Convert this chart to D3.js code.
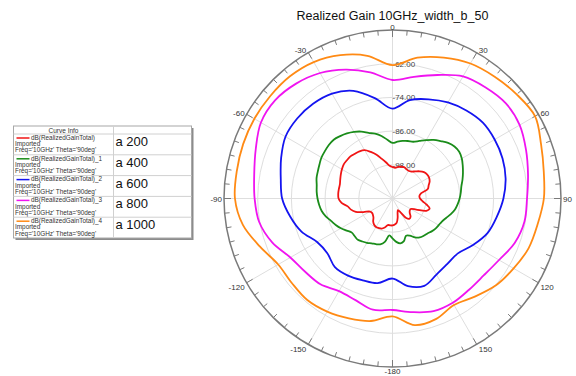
<!DOCTYPE html>
<html><head><meta charset="utf-8">
<script src="https://cdn.jsdelivr.net/npm/d3@7"></script>
<style>body{margin:0;background:#fff}svg{display:block;font-family:Arial,"Liberation Sans",sans-serif}</style>
</head><body><svg id="c" width="576" height="376"></svg>
<script>
// ---- data ----
const angles10 = [-180,-170,-160,-150,-140,-130,-120,-110,-100,-90,-80,-70,-60,-50,-40,-30,-20,-10,
  0,10,20,30,40,50,60,70,80,90,100,110,120,130,140,150,160,170];
const angles5 = [-180,-175,-170,-165,-160,-155,-150,-145,-140,-135,-130,-125,-120,-115,-110,-105,-100,-95,
  -90,-85,-80,-75,-70,-65,-60,-55,-50,-45,-40,-35,-30,-25,-20,-15,-10,-5,
  0,5,10,15,20,25,30,35,40,45,50,55,60,65,70,75,80,85,
  90,95,100,105,110,115,120,125,130,135,140,145,150,155,160,165,170,175];
const gainA200 = [-100.4,-100.4,-100.4,-99.3,-98.6,-98.4,-98.3,-98.6,-99.3,-100.4,-100.9,-101.1,-100.7,-98.6,-96.1,-94.7,-93.8,-91.8,
  -90.8,-90.6,-90.6,-90.6,-90.2,-89.7,-89.2,-88.8,-88.8,-88.8,-89.2,-89.5,-90.1,-91.7,-93.4,-95.4,-97.0,-98.3,
  -98.8,-99.0,-98.6,-98.3,-98.1,-98.4,-98.6,-98.3,-97.4,-96.3,-95.4,-95.0,-95.0,-95.4,-96.3,-97.0,-99.7,-100.4,
  -100.2,-99.3,-97.7,-96.3,-97.2,-100.7,-102.5,-102.5,-102.0,-100.9,-100.6,-101.5,-104.3,-105.4,-104.7,-102.9,-101.3,-100.7];
const gainA400 = [-95.8,-96.8,-94.3,-93.1,-92.7,-92.4,-91.8,-91.3,-90.8,-91.0,-91.1,-90.1,-88.8,-87.7,-86.7,-85.4,-84.4,-83.8,
  -83.3,-82.9,-82.6,-82.0,-81.7,-81.3,-80.8,-80.6,-80.4,-80.4,-81.0,-81.7,-82.6,-83.7,-85.1,-86.1,-87.4,-89.0,
  -90.2,-89.7,-89.2,-88.8,-88.5,-87.4,-86.0,-84.5,-83.3,-82.0,-81.2,-81.0,-81.5,-82.4,-83.3,-84.2,-85.1,-85.6,
  -86.1,-86.7,-87.4,-88.5,-89.7,-90.6,-91.0,-91.3,-91.8,-92.4,-92.7,-93.1,-94.0,-95.4,-95.9,-94.3,-93.8,-94.5];
const gainA600 = [-81.5,-79.4,-79.0,-78.3,-78.1,-79.7,-79.0,-75.5,-73.0,-70.7,-69.6,-67.8,-66.0,-65.7,-66.0,-66.9,-69.2,-73.7,
  -78.0,-74.4,-72.4,-70.5,-69.1,-68.0,-68.0,-68.3,-69.1,-70.5,-72.3,-74.0,-76.9,-79.6,-79.6,-78.7,-76.9,-78.3];
const gainA800 = [-70.3,-69.8,-71.5,-71.9,-70.1,-69.4,-68.0,-64.4,-61.8,-60.9,-60.0,-58.2,-55.9,-55.5,-56.6,-58.4,-61.2,-64.4,
  -67.8,-66.0,-63.2,-59.8,-58.4,-57.3,-57.7,-59.4,-61.0,-62.1,-62.3,-63.7,-66.2,-67.5,-67.6,-67.1,-67.3,-68.9];
const gainA1000 = [-68.0,-65.7,-64.6,-63.5,-62.8,-63.2,-63.0,-59.8,-55.9,-53.9,-53.7,-53.4,-53.2,-53.2,-53.2,-53.9,-55.7,-58.4,
  -62.5,-59.1,-56.6,-54.5,-53.4,-52.3,-51.4,-53.7,-55.3,-56.1,-57.5,-58.4,-60.2,-61.9,-64.4,-66.2,-64.4,-64.2];
const curveNames = ["dB(RealizedGainTotal)","dB(RealizedGainTotal)_1","dB(RealizedGainTotal)_2","dB(RealizedGainTotal)_3","dB(RealizedGainTotal)_4"];
const curveLabels = ["a 200","a 400","a 600","a 800","a 1000"];
const ringTicks = [-98,-86,-74,-62];
const angleTicks = [-180,-150,-120,-90,-60,-30,0,30,60,90,120,150];
const titleText = "Realized Gain 10GHz_width_b_50";

// ---- setup ----
const colors = ["#f01414","#1a8c1a","#1414f0","#f014f0","#ff8a14"];
const series = [
  {angles: angles5, values: gainA200},
  {angles: angles5, values: gainA400},
  {angles: angles10, values: gainA600},
  {angles: angles10, values: gainA800},
  {angles: angles10, values: gainA1000}
];
const svg = d3.select("#c");
svg.append("rect").attr("width",576).attr("height",376).attr("fill","#fff");
const cx = 392.5, cy = 198.5, R = 168.5;
const r = d3.scaleLinear().domain([-110,-50]).range([0,R]);
const rad = a => a*Math.PI/180;
const g = svg.append("g").attr("transform",`translate(${cx},${cy})`);

// grid rings
g.selectAll("circle.ring").data(ringTicks).join("circle")
  .attr("r",d=>r(d)).attr("fill","none").attr("stroke","#dedede").attr("stroke-width",1);
// spokes
g.selectAll("line.spoke").data(angleTicks).join("line")
  .attr("x1",0).attr("y1",0)
  .attr("x2",d=>R*Math.sin(rad(d))).attr("y2",d=>-R*Math.cos(rad(d)))
  .attr("stroke","#dedede").attr("stroke-width",1);
// outer circle
g.append("circle").attr("r",R).attr("fill","none").attr("stroke","#7a7a7a").attr("stroke-width",1.5);
// ticks every 5 deg
const tickAngles = d3.range(-180,180,5);
g.selectAll("line.tick").data(tickAngles).join("line")
  .attr("x1",d=>R*Math.sin(rad(d))).attr("y1",d=>-R*Math.cos(rad(d)))
  .attr("x2",d=>(R-(d%30===0?7:5))*Math.sin(rad(d))).attr("y2",d=>-(R-(d%30===0?7:5))*Math.cos(rad(d)))
  .attr("stroke","#7a7a7a").attr("stroke-width",1);
// angle labels
g.selectAll("text.ang").data(angleTicks).join("text")
  .attr("font-size",8).attr("fill","#333")
  .attr("text-anchor",d=>{const s=Math.sin(rad(d)); return s>0.1?"start":(s<-0.1?"end":"middle");})
  .attr("x",d=>{const s=Math.sin(rad(d)); return R*s + (s>0.1?2:(s<-0.1?-2:0));})
  .attr("y",d=>{const c=Math.cos(rad(d)); const off = c>=0 ? -3*c : 3+2*Math.abs(c); return Math.min(-R*c + off + 3, 175.5);})
  .text(d=>d);
// ring labels
g.selectAll("text.rl").data(ringTicks).join("text")
  .attr("font-size",8).attr("fill","#444")
  .attr("x",0).attr("y",d=>-r(d)+3)
  .text(d=>d.toFixed(2));

// curves
const line = d3.lineRadial().angle(d=>rad(d[0])).radius(d=>r(d[1])).curve(d3.curveCatmullRomClosed.alpha(0.5));
series.forEach((s,i)=>{
  g.append("path").datum(d3.zip(s.angles,s.values))
    .attr("d",line).attr("fill","none").attr("stroke",colors[i]).attr("stroke-width",1.8);
});

// title
svg.append("text").attr("x",392.5).attr("y",19.5).attr("text-anchor","middle")
  .attr("font-size",12.5).attr("fill","#111").text(titleText);

// legend
const lx=13.5, ly=126, lw=178, lh=112, col=100, headH=8, rowH=(lh-headH)/5;
const lg = svg.append("g");
lg.append("rect").attr("x",lx+2).attr("y",ly+2).attr("width",lw).attr("height",lh).attr("fill","#8c8c8c");
lg.append("rect").attr("x",lx).attr("y",ly).attr("width",lw).attr("height",lh).attr("fill","#fff").attr("stroke","#a8a8a8").attr("stroke-width",1);
lg.append("line").attr("x1",lx+col).attr("x2",lx+col).attr("y1",ly).attr("y2",ly+lh).attr("stroke","#d0d0d0");
lg.append("text").attr("x",lx+col/2).attr("y",ly+6.5).attr("text-anchor","middle").attr("font-size",6.5).attr("fill","#333").text("Curve Info");
curveNames.forEach((nm,i)=>{
  const top = ly+headH+i*rowH;
  lg.append("line").attr("x1",lx).attr("x2",lx+lw).attr("y1",top).attr("y2",top).attr("stroke","#d0d0d0");
  lg.append("line").attr("x1",lx+3).attr("x2",lx+16).attr("y1",top+4).attr("y2",top+4).attr("stroke",colors[i]).attr("stroke-width",1.5);
  lg.append("text").attr("x",lx+17.5).attr("y",top+5.8).attr("font-size",6.4).attr("fill","#333").text(nm);
  lg.append("text").attr("x",lx+1.5).attr("y",top+12.1).attr("font-size",6.4).attr("fill","#333").text("Imported");
  lg.append("text").attr("x",lx+1.5).attr("y",top+18.4).attr("font-size",6.4).attr("fill","#333").text("Freq='10GHz' Theta='90deg'");
  lg.append("text").attr("x",lx+col+2).attr("y",top+12).attr("font-size",13).attr("fill","#111").text(curveLabels[i]);
});
</script></body></html>
